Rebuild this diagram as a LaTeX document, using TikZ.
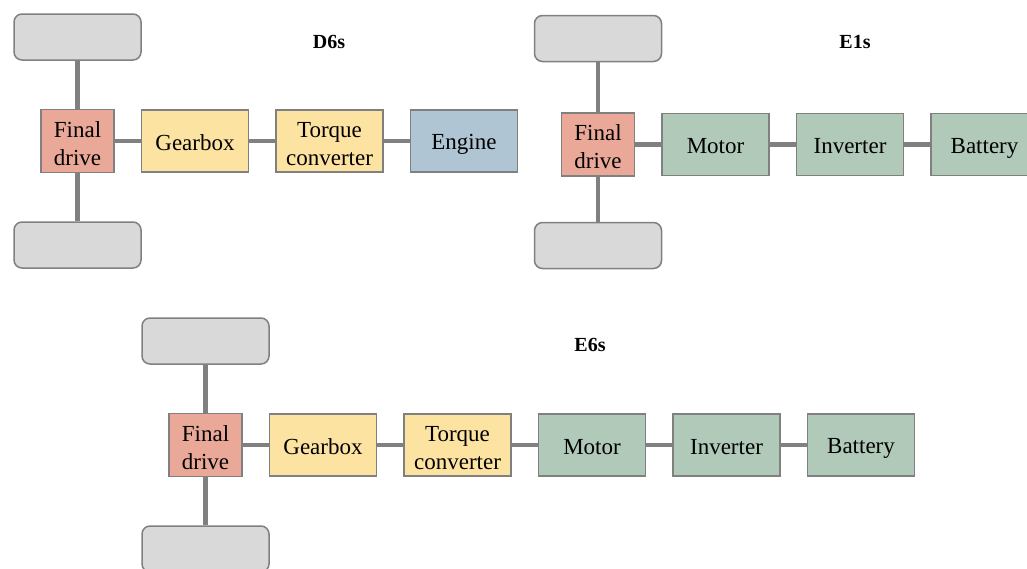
\documentclass[tikz,border=0pt]{standalone}
\usepackage{fontspec}
\setmainfont{Liberation Serif}
\usetikzlibrary{positioning}

\definecolor{linegray}{HTML}{808080}
\definecolor{wheelgray}{HTML}{D9D9D9}
\definecolor{drivered}{HTML}{EAA998}
\definecolor{gearyellow}{HTML}{FDE3A1}
\definecolor{engineblue}{HTML}{B0C5D3}
\definecolor{elecgreen}{HTML}{B0C9B9}

\newcommand\partstrut{\rule[-4pt]{0pt}{26pt}}
\newcommand\twolines[2]{\rule{0pt}{24pt}#1\\#2\rule[-4pt]{0pt}{4pt}}

\tikzset{
  wheel/.style={draw=linegray, fill=wheelgray, line width=1.5pt, rounded corners=8pt,
    minimum width=127pt, minimum height=46pt},
  part/.style={draw=linegray, line width=1.5pt, inner sep=0pt, align=center,
    minimum width=107pt, minimum height=62pt, font=\fontsize{23}{28}\selectfont,
    execute at begin node=\partstrut, execute at end node=\partstrut},
  drive/.style={part, fill=drivered, minimum width=73pt, minimum height=63pt},
  gear/.style={part, fill=gearyellow},
  engine/.style={part, fill=engineblue},
  elec/.style={part, fill=elecgreen},
  shaft/.style={draw=linegray, line width=4.5pt},
  title/.style={font=\fontsize{20}{24}\selectfont\bfseries}
}

\begin{document}
\begin{tikzpicture}[x=1pt, y=-1pt, node distance=26pt]
  \useasboundingbox (0,0) rectangle (1027,568);

  % D6s
  \node[title] (tD) at (329,42) {D6s};
  \node[drive] (fdD) at (77.5,141) {\twolines{Final}{drive}};
  \node[gear, right=of fdD] (gbD) {Gearbox};
  \node[gear, right=of gbD] (tcD) {\twolines{Torque}{converter}};
  \node[engine, right=of tcD] (enD) {Engine};
  \node[wheel, above=48pt of fdD] (wtD) {};
  \node[wheel, below=48pt of fdD] (wbD) {};
  \draw[shaft] (wtD) -- (fdD);
  \draw[shaft] (fdD) -- (wbD);
  \draw[shaft] (fdD) -- (gbD);
  \draw[shaft] (gbD) -- (tcD);
  \draw[shaft] (tcD) -- (enD);

  % E1s
  \node[title] (tE1) at (855,42) {E1s};
  \node[drive] (fdE1) at (598,144.5) {\twolines{Final}{drive}};
  \node[elec, right=of fdE1] (moE1) {Motor};
  \node[elec, right=of moE1] (ivE1) {Inverter};
  \node[elec, right=of ivE1] (baE1) {Battery};
  \node[wheel, above=50pt of fdE1] (wtE1) {};
  \node[wheel, below=45pt of fdE1] (wbE1) {};
  \draw[shaft] (wtE1) -- (fdE1);
  \draw[shaft] (fdE1) -- (wbE1);
  \draw[shaft] (fdE1) -- (moE1);
  \draw[shaft] (moE1) -- (ivE1);
  \draw[shaft] (ivE1) -- (baE1);

  % E6s
  \node[title] (tE6) at (590,345) {E6s};
  \node[drive] (fdE6) at (205.5,445) {\twolines{Final}{drive}};
  \node[gear, right=of fdE6] (gbE6) {Gearbox};
  \node[gear, right=of gbE6] (tcE6) {\twolines{Torque}{converter}};
  \node[elec, right=of tcE6] (moE6) {Motor};
  \node[elec, right=of moE6] (ivE6) {Inverter};
  \node[elec, right=of ivE6] (baE6) {Battery};
  \node[wheel, above=48pt of fdE6] (wtE6) {};
  \node[wheel, below=48pt of fdE6] (wbE6) {};
  \draw[shaft] (wtE6) -- (fdE6);
  \draw[shaft] (fdE6) -- (wbE6);
  \draw[shaft] (fdE6) -- (gbE6);
  \draw[shaft] (gbE6) -- (tcE6);
  \draw[shaft] (tcE6) -- (moE6);
  \draw[shaft] (moE6) -- (ivE6);
  \draw[shaft] (ivE6) -- (baE6);
\end{tikzpicture}
\end{document}
